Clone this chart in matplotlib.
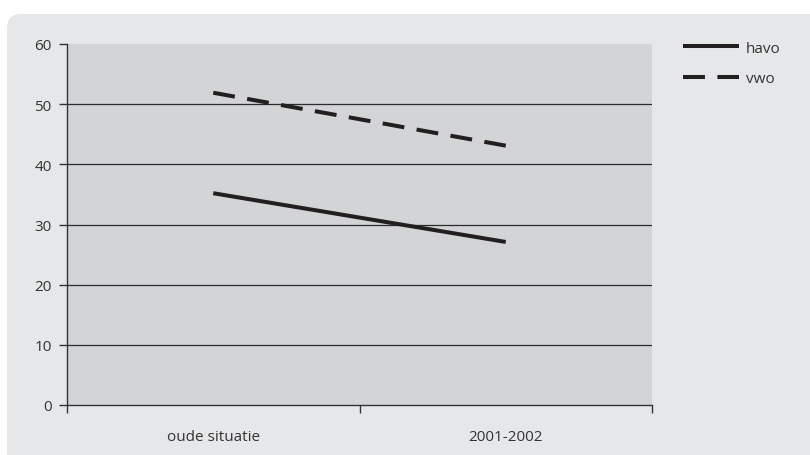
import matplotlib
matplotlib.use("Agg")
import matplotlib.pyplot as plt
from matplotlib.patches import FancyBboxPatch
from matplotlib.transforms import IdentityTransform

categories = ["oude situatie", "2001-2002"]
havo = [35.2, 27.1]
vwo = [51.9, 43.1]
yticks = [0, 10, 20, 30, 40, 50, 60]

plt.rcParams["font.family"] = ["Open Sans", "DejaVu Sans"]
text_color = "#333333"
fs = 11

fig = plt.figure(figsize=(8.1, 4.56), dpi=100)
fig.patch.set_facecolor("white")

# rounded panel behind the chart (pixel coordinates)
panel = FancyBboxPatch((7, -30), 840, 441 + 30,
                       boxstyle="round,pad=0,rounding_size=14",
                       transform=IdentityTransform(),
                       facecolor="#e6e7e9", edgecolor="none", zorder=-10)
fig.patches.append(panel)

ax = fig.add_axes([67 / 810, 50 / 456, (652 - 67) / 810, (406 - 45) / 456])
ax.set_zorder(1)
ax.set_facecolor("#d3d4d6")

x = [0.5, 1.5]
ax.plot(x, havo, color="#231f20", lw=2.9, solid_capstyle="butt", label="havo", zorder=3)
ax.plot(x, vwo, color="#231f20", lw=2.9, dashes=(5.45, 3.1), dash_capstyle="butt",
        label="vwo", zorder=3)

ax.set_xlim(0, 2)
ax.set_ylim(0, 60)
ax.set_yticks(yticks)
ax.set_yticklabels([str(v) for v in yticks])
ax.set_xticks([0, 1, 2])
ax.set_xticklabels([])
ax.set_xticks(x, minor=True)
ax.set_xticklabels(categories, minor=True)
ax.tick_params(axis="x", which="minor", length=0, pad=17, labelsize=fs, labelcolor=text_color)
ax.tick_params(axis="x", which="major", length=6, width=1, color="#333333", direction="out")
ax.tick_params(axis="y", length=6, width=1, color="#333333", direction="out", pad=5,
               labelsize=fs, labelcolor=text_color)

for y in yticks[1:-1]:
    ax.axhline(y, color="#2b2b2b", lw=0.9, zorder=1)

for side in ["top", "right"]:
    ax.spines[side].set_visible(False)
for side in ["left", "bottom"]:
    ax.spines[side].set_color("#333333")
    ax.spines[side].set_linewidth(1.0)

leg = ax.legend(loc="upper left", bbox_to_anchor=(669 / 810, 1 - 28 / 456),
                bbox_transform=fig.transFigure, frameon=False,
                handlelength=3.7, handletextpad=0.45, labelspacing=1.0,
                fontsize=fs, labelcolor=text_color)

fig.savefig("out.png", dpi=100, facecolor=fig.get_facecolor())
